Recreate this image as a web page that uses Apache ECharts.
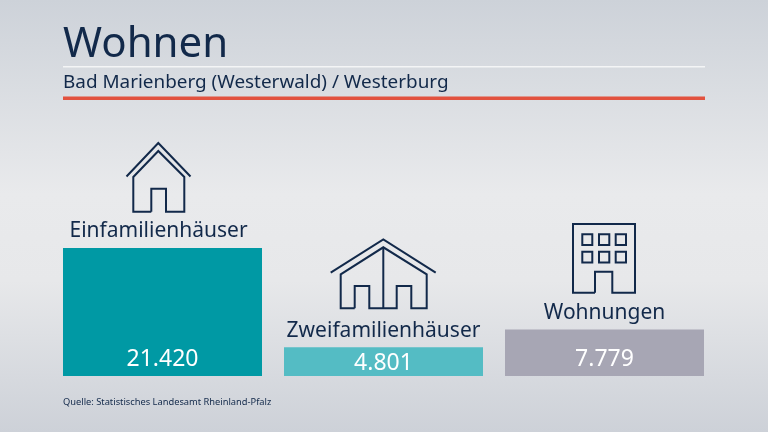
<!DOCTYPE html>
<html lang="de">
<head>
    <meta charset="UTF-8">
    <title>Wohnen</title>
    <script src="https://cdn.jsdelivr.net/npm/echarts@6/dist/echarts.min.js"></script>
    <style>
        html, body { margin: 0; padding: 0; }
    </style>
</head>
<body>
<div id="main" style="width:768px;height:432px;"></div>
<script type="text/javascript">
    var categories = ['Einfamilienhäuser', 'Zweifamilienhäuser', 'Wohnungen'];
    var values = [21420, 4801, 7779];
    var barColors = ['#0099a4', '#54bcc4', '#a7a6b4'];
    // bottom distance of the number inside each bar
    var valueDistance = [5, 1, 5];
    // sideways nudge of the names above the bars
    var nameShift = [-4, 0, 0];

    var titleText = 'Wohnen';
    var subtitleText = 'Bad Marienberg (Westerwald) / Westerburg';
    var sourceText = 'Quelle: Statistisches Landesamt Rheinland-Pfalz';

    var FONT = '"Noto Sans", sans-serif';
    var DARK = '#12294a';

    function fmt(n) {
        return String(n).replace(/\B(?=(\d{3})+$)/g, '.');
    }

    function line(points, width) {
        return {
            type: 'polyline',
            shape: { points: points },
            style: { stroke: DARK, lineWidth: width || 2, fill: 'none', lineJoin: 'miter' }
        };
    }

    function rect(x, y, w, h, width) {
        return {
            type: 'rect',
            shape: { x: x, y: y, width: w, height: h },
            style: { stroke: DARK, lineWidth: width || 2, fill: 'none' }
        };
    }

    // icons above the bars
    var icons = [
        // Einfamilienhaus
        line([[126.5, 176.5], [158.3, 143], [190.5, 176.5]]),
        line([[151.3, 211.7], [133.3, 211.7], [133.3, 177], [158.3, 151], [184.3, 177], [184.3, 211.7], [166, 211.7], [166, 188.7], [151.3, 188.7], [151.3, 211.7]]),
        // Zweifamilienhaus
        line([[330.7, 272.7], [383.3, 239.5], [435.7, 272.7]]),
        line([[354.7, 308.3], [340.7, 308.3], [340.7, 274.3], [383.3, 247.3], [426.7, 274.3], [426.7, 308.3], [411.3, 308.3], [411.3, 286], [396.7, 286], [396.7, 308.3], [369.3, 308.3], [369.3, 286], [354.7, 286], [354.7, 308.3]]),
        line([[383.3, 247.3], [383.3, 308.3]]),
        // Wohnhaus
        line([[595, 292.7], [573, 292.7], [573, 224], [635, 224], [635, 292.7], [612.3, 292.7], [612.3, 271.7], [595, 271.7], [595, 292.7]]),
        rect(582.3, 234.3, 10, 10.7), rect(599, 234.3, 10.3, 10.7), rect(615.7, 234.3, 10.3, 10.7),
        rect(582.3, 251.7, 10, 10.7), rect(599, 251.7, 10.3, 10.7), rect(615.7, 251.7, 10.3, 10.7)
    ];

    var rules = [
        { type: 'rect', shape: { x: 63, y: 66, width: 642, height: 1.5 }, style: { fill: '#f4f5f6' } },
        { type: 'rect', shape: { x: 63, y: 96.5, width: 642, height: 3.5 }, style: { fill: '#e2523f' } }
    ];

    var myChart = echarts.init(document.getElementById('main'));
    var option = {
        animation: false,
        backgroundColor: {
            type: 'linear', x: 0, y: 0, x2: 0, y2: 1,
            colorStops: [
                { offset: 0, color: '#cdd2d9' },
                { offset: 0.45, color: '#e9eaec' },
                { offset: 0.65, color: '#e7e8ea' },
                { offset: 1, color: '#cdd1d8' }
            ]
        },
        title: [
            {
                text: titleText, left: 58, top: 19,
                textStyle: { color: DARK, fontFamily: FONT, fontSize: 42, fontWeight: 'normal' }
            },
            {
                text: subtitleText, left: 58, top: 68,
                textStyle: { color: DARK, fontFamily: FONT, fontSize: 18.9, fontWeight: 'normal' }
            },
            {
                text: sourceText, left: 58, top: 393,
                textStyle: { color: DARK, fontFamily: FONT, fontSize: 9.3, fontWeight: 'normal' }
            }
        ],
        grid: { left: 52, width: 663, top: 248, height: 128 },
        xAxis: {
            type: 'category',
            data: categories,
            show: false
        },
        yAxis: {
            type: 'value',
            min: 0,
            max: 21420,
            show: false
        },
        series: [
            {
                type: 'bar',
                barWidth: 199,
                data: values.map(function (v, i) {
                    return {
                        value: v,
                        itemStyle: { color: barColors[i] },
                        label: { distance: valueDistance[i] }
                    };
                }),
                label: {
                    show: true,
                    position: 'insideBottom',
                    color: '#ffffff',
                    fontFamily: FONT,
                    fontSize: 23,
                    formatter: function (p) { return fmt(p.value); }
                }
            },
            {
                // invisible twin, only carries the name above each bar
                type: 'bar',
                barWidth: 199,
                barGap: '-100%',
                data: values.map(function (v, i) {
                    return { value: v, label: { offset: [nameShift[i], 0] } };
                }),
                itemStyle: { color: 'transparent' },
                silent: true,
                label: {
                    show: true,
                    position: 'top',
                    distance: 6,
                    color: DARK,
                    fontFamily: FONT,
                    fontSize: 21,
                    formatter: function (p) { return p.name; }
                }
            }
        ],
        graphic: rules.concat(icons)
    };
    myChart.setOption(option);
</script>
</body>
</html>
